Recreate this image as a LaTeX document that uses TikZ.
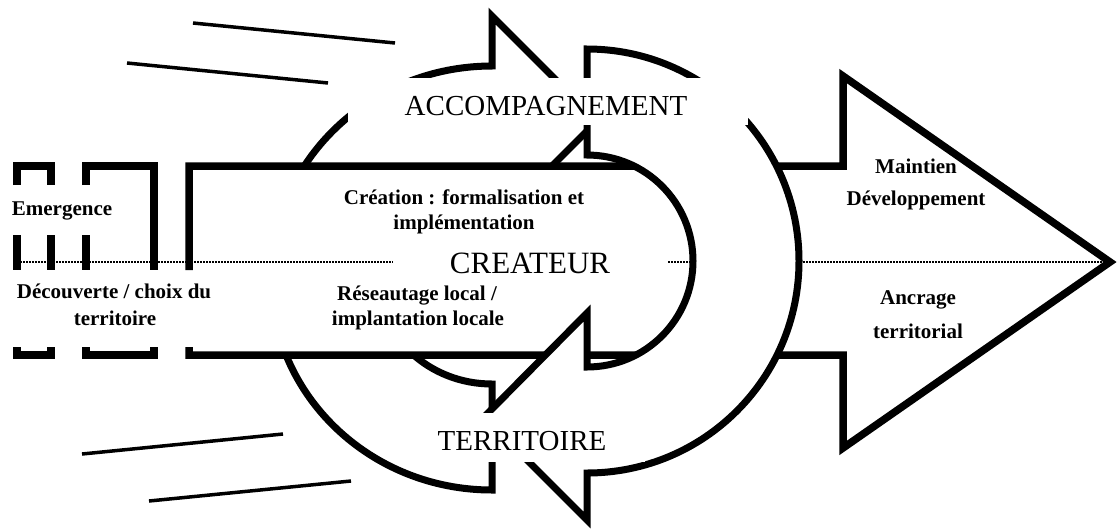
\documentclass[tikz,border=0pt]{standalone}
\usepackage{fontspec}
\setmainfont{Liberation Serif}
\begin{document}
\begin{tikzpicture}[x=1pt,y=-1pt,
  band/.style={line width=7pt, draw=black, fill=white, line join=miter},
  outline/.style={line width=7.5pt, line join=miter},
  speedline/.style={line width=3.5pt},
  midline/.style={line width=1.5pt, dash pattern=on 1.5pt off 1.5pt},
  mask/.style={fill=white},
  smalltxt/.style={font=\fontsize{21}{25}\selectfont\bfseries, anchor=base, inner sep=0pt},
  bigtxt/.style={font=\fontsize{29}{34}\selectfont, anchor=base, inner sep=0pt}]
\useasboundingbox (0,0) rectangle (1118,531);
% speed lines
\draw[speedline] (193,23) -- (395,43);
\draw[speedline] (127,63) -- (328,83);
\draw[speedline] (82,454) -- (283,434);
\draw[speedline] (149,501) -- (351,481);
% left circular arrow (ACCOMPAGNEMENT)
\draw[band] (492,490) arc[start angle=90, end angle=270, x radius=221, y radius=212]
  -- (492,16) -- (597,121) -- (492,226) -- (492,172)
  arc[start angle=270, end angle=90, x radius=114, y radius=106] -- cycle;
% big arrow
\fill[white] (189,166) -- (843,166) -- (843,76) -- (1110,262) -- (843,448) -- (843,355) -- (189,355) -- cycle;
\draw[outline] (189,270) -- (189,166) -- (843,166) -- (843,76) -- (1110,262) -- (843,448) -- (843,355) -- (189,355) -- (189,347);
% dashed boxes
\draw[outline] (17,185) -- (17,166) -- (51,166) -- (51,185);
\draw[outline] (17,235) -- (17,270);
\draw[outline] (51,235) -- (51,270);
\draw[outline] (17,347) -- (17,355) -- (51,355) -- (51,347);
\draw[outline] (86,185) -- (86,166) -- (154,166) -- (154,270);
\draw[outline] (86,235) -- (86,270);
\draw[outline] (86,347) -- (86,355) -- (154,355) -- (154,347);
% dotted middle line
\draw[midline] (20,262) -- (1106,262);
% right circular arrow (TERRITOIRE)
\draw[band] (587,49) arc[start angle=270, end angle=450, radius=212]
  -- (587,520) -- (484,417) -- (587,313) -- (587,367)
  arc[start angle=90, end angle=-90, radius=106] -- cycle;
% masks
\fill[mask] (348,78) rectangle (748,125);
\fill[mask] (393,244) rectangle (668,282);
\fill[mask] (400,413) rectangle (645,462);
% texts
\node[bigtxt] (acc) at (546,115) {ACCOMPAGNEMENT};
\node[bigtxt, font=\fontsize{31}{36}\selectfont] (cre) at (530,273) {CREATEUR};
\node[bigtxt] (ter) at (522,450) {TERRITOIRE};
\node[smalltxt] (em) at (62,215) {Emergence};
\node[smalltxt] (dec1) at (114,298) {Découverte / choix du};
\node[smalltxt] (dec2) at (115,325) {territoire};
\node[smalltxt] (cr1) at (464,204) {Création : formalisation et};
\node[smalltxt] (cr2) at (464,229) {implémentation};
\node[smalltxt] (re1) at (417,300) {Réseautage local /};
\node[smalltxt] (re2) at (418,325) {implantation locale};
\node[smalltxt] (ma1) at (916,173) {Maintien};
\node[smalltxt] (ma2) at (916,205) {Développement};
\node[smalltxt] (an1) at (918,304) {Ancrage};
\node[smalltxt] (an2) at (918,338) {territorial};
\end{tikzpicture}
\end{document}
